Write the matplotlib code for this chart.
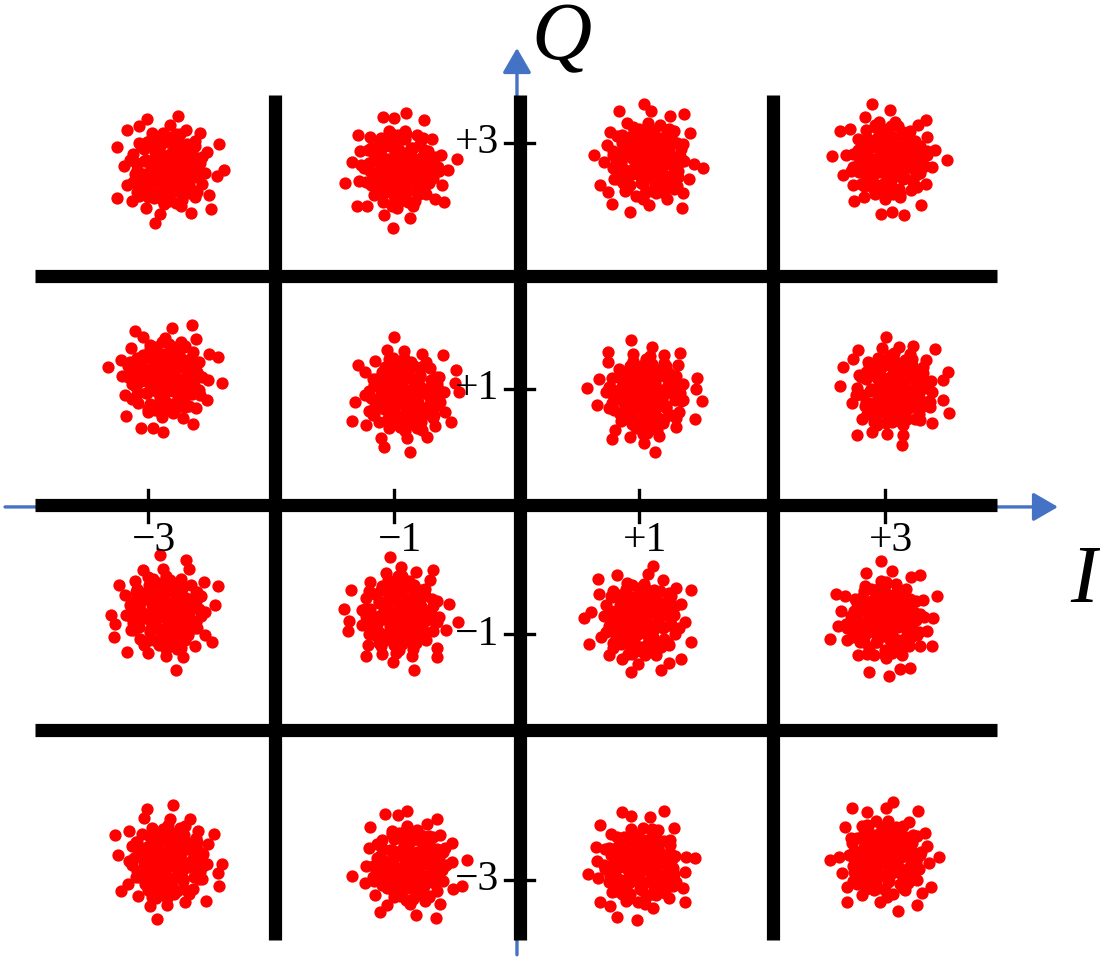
import numpy as np
import matplotlib
matplotlib.use("Agg")
import matplotlib.pyplot as plt

# Ideal 16-QAM symbol levels and tick labels
levels = [-3, -1, 1, 3]
tick_labels_i = ["\u22123", "\u22121", "+1", "+3"]
tick_labels_q = ["+3", "+1", "\u22121", "\u22123"]
q_tick_levels = [3, 1, -1, -3]

# Received cluster centres (I, Q) for each symbol, row by row from the top
centre_i = [-2.84, -0.95, 1.07, 3.03,
            -2.86, -0.91, 1.05, 3.08,
            -2.86, -0.95, 1.01, 3.00,
            -2.84, -0.87, 1.01, 3.00]
centre_q = [2.79, 2.79, 2.86, 2.86,
            1.09, 0.95, 0.95, 0.99,
            -0.82, -0.84, -0.88, -0.88,
            -2.85, -2.88, -2.88, -2.82]

# Noise offsets of received samples around a centre (hundredths of a unit):
# a dense core followed by a sparser fringe
core_dx = [0, 8, -7, 4, -8, 14, -14, 2, -2, 13, -13, 8, -10, 17, -18, 6, -6, 20, -20, 0,
           1, 12, -13, 20, -19, 24, -24, 8, -11, 16, -17, 23, -22, 4, -4, 26, -26, 12, -8, 5,
           -4, 10, -11, -5, 11, -16, 18, 0,
           5, -5, 2, -1, 7, -7, 11, -11, 16, -16, 5, -5, 18, -18, 12, -12, 19, -19, 25, -25,
           0, 1, 17, -16, 22, -22, 28, -28, 10, -13, 5, -6, 13, -14, 28, -28, 7, -4, 22, -23]
core_dy = [0, 2, 5, -8, -5, -4, 1, 12, -14, 10, -11, 16, 14, -12, 7, -18, 19, 2, -4, 22,
           -22, -19, -19, 14, 16, -7, -10, 23, -24, 20, 22, -18, -17, 26, -26, 5, 5, -25, 25, 7,
           10, -11, -7, -6, 5, -4, -2, -11,
           -4, 2, 5, -6, 10, -11, -7, 8, 5, -7, 17, -18, 10, -13, 18, 20, -7, 6, -1, -1,
           26, -26, -20, -23, 19, 19, -12, -11, 28, 26, -13, 13, -13, -14, 10, 12, -28, 29, -23, -22]
fringe_dx = [26, -27, 7, -3, 24, -23, 22, -25, 30, -31, 11, -13, 32, -33, 15, -18, 34, -36,
             2, -6, 26, -29, 40, -41, 19, -23, 42, -41, 8, -10, 35, -33, 46, -17]
fringe_dy = [8, -4, 28, -29, -19, 21, 23, -19, -3, 7, -30, 29, 14, -13, 32, -32, -21, 2,
             36, -37, 29, -26, -6, 18, -36, 35, 20, -24, 43, -44, -33, 32, -1, 41]

# Orientation of the noise pattern for each cluster (degrees) and mirroring
cluster_angle = [0, 40, 95, 150, 200, 250, 310, 20, 70, 130, 180, 230, 290, 340, 110, 260]
cluster_mirror = [1, -1, 1, 1, -1, 1, -1, 1, 1, -1, 1, -1, -1, 1, 1, -1]

# Decision boundaries
boundary_i = [-1.967, 0.029, 2.089]
boundary_q = [1.914, 0.053, -1.779]

BLUE = "#4472C4"
RED = "#FF0000"

fig = plt.figure(figsize=(11, 9.57), dpi=100)
ax = fig.add_axes([0, 0, 1, 1])
ax.set_xlim(-4.206, 4.752)
ax.set_ylim(-3.628, 4.165)
ax.axis("off")

# Blue I/Q axes with arrow heads
arrow_kw = dict(arrowstyle="-|>,head_length=0.38,head_width=0.22",
                mutation_scale=40, lw=2.4, color=BLUE, shrinkA=0, shrinkB=0)
ax.annotate("", xy=(4.41, 0.037), xytext=(-4.165, 0.037),
            arrowprops=arrow_kw, zorder=1)
ax.annotate("", xy=(0.004, 3.774), xytext=(0.004, -3.61),
            arrowprops=arrow_kw, zorder=1)

# Noisy received samples
dx = np.array(core_dx + fringe_dx) * 0.01
dy = np.array(core_dy + fringe_dy) * 0.01
for ci, cq, ang, mir in zip(centre_i, centre_q, cluster_angle, cluster_mirror):
    a = np.deg2rad(ang)
    px = mir * dx
    rx = px * np.cos(a) - dy * np.sin(a)
    ry = px * np.sin(a) + dy * np.cos(a)
    ax.scatter(ci + rx, cq + ry, s=78, color=RED, linewidths=0, zorder=2)

# Decision-region grid
for b in boundary_i:
    ax.plot([b, b], [-3.49, 3.391], color="black", lw=9.5,
            solid_capstyle="butt", zorder=3)
for b in boundary_q:
    ax.plot([-3.92, 3.913], [b, b], color="black", lw=9.5,
            solid_capstyle="butt", zorder=3)

# Tick marks and labels
for lv, lab in zip(levels, tick_labels_i):
    ax.plot([lv, lv], [0.175, -0.085], color="black", lw=2.4, zorder=4)
    ax.text(lv + 0.05, -0.24, lab, ha="center", va="center",
            fontsize=30, family="Liberation Serif", zorder=4)
for lv, lab in zip(q_tick_levels, tick_labels_q):
    ax.plot([-0.09, 0.145], [lv, lv], color="black", lw=2.4, zorder=4)
    ax.text(-0.14, lv, lab, ha="right", va="center",
            fontsize=30, family="Liberation Serif", zorder=4)

# Axis names
ax.text(0.37, 3.84, "Q", ha="center", va="center", fontsize=60,
        family="Liberation Serif", style="italic")
ax.text(4.62, -0.58, "I", ha="center", va="center", fontsize=60,
        family="Liberation Serif", style="italic")

fig.savefig("out.png", dpi=100)
